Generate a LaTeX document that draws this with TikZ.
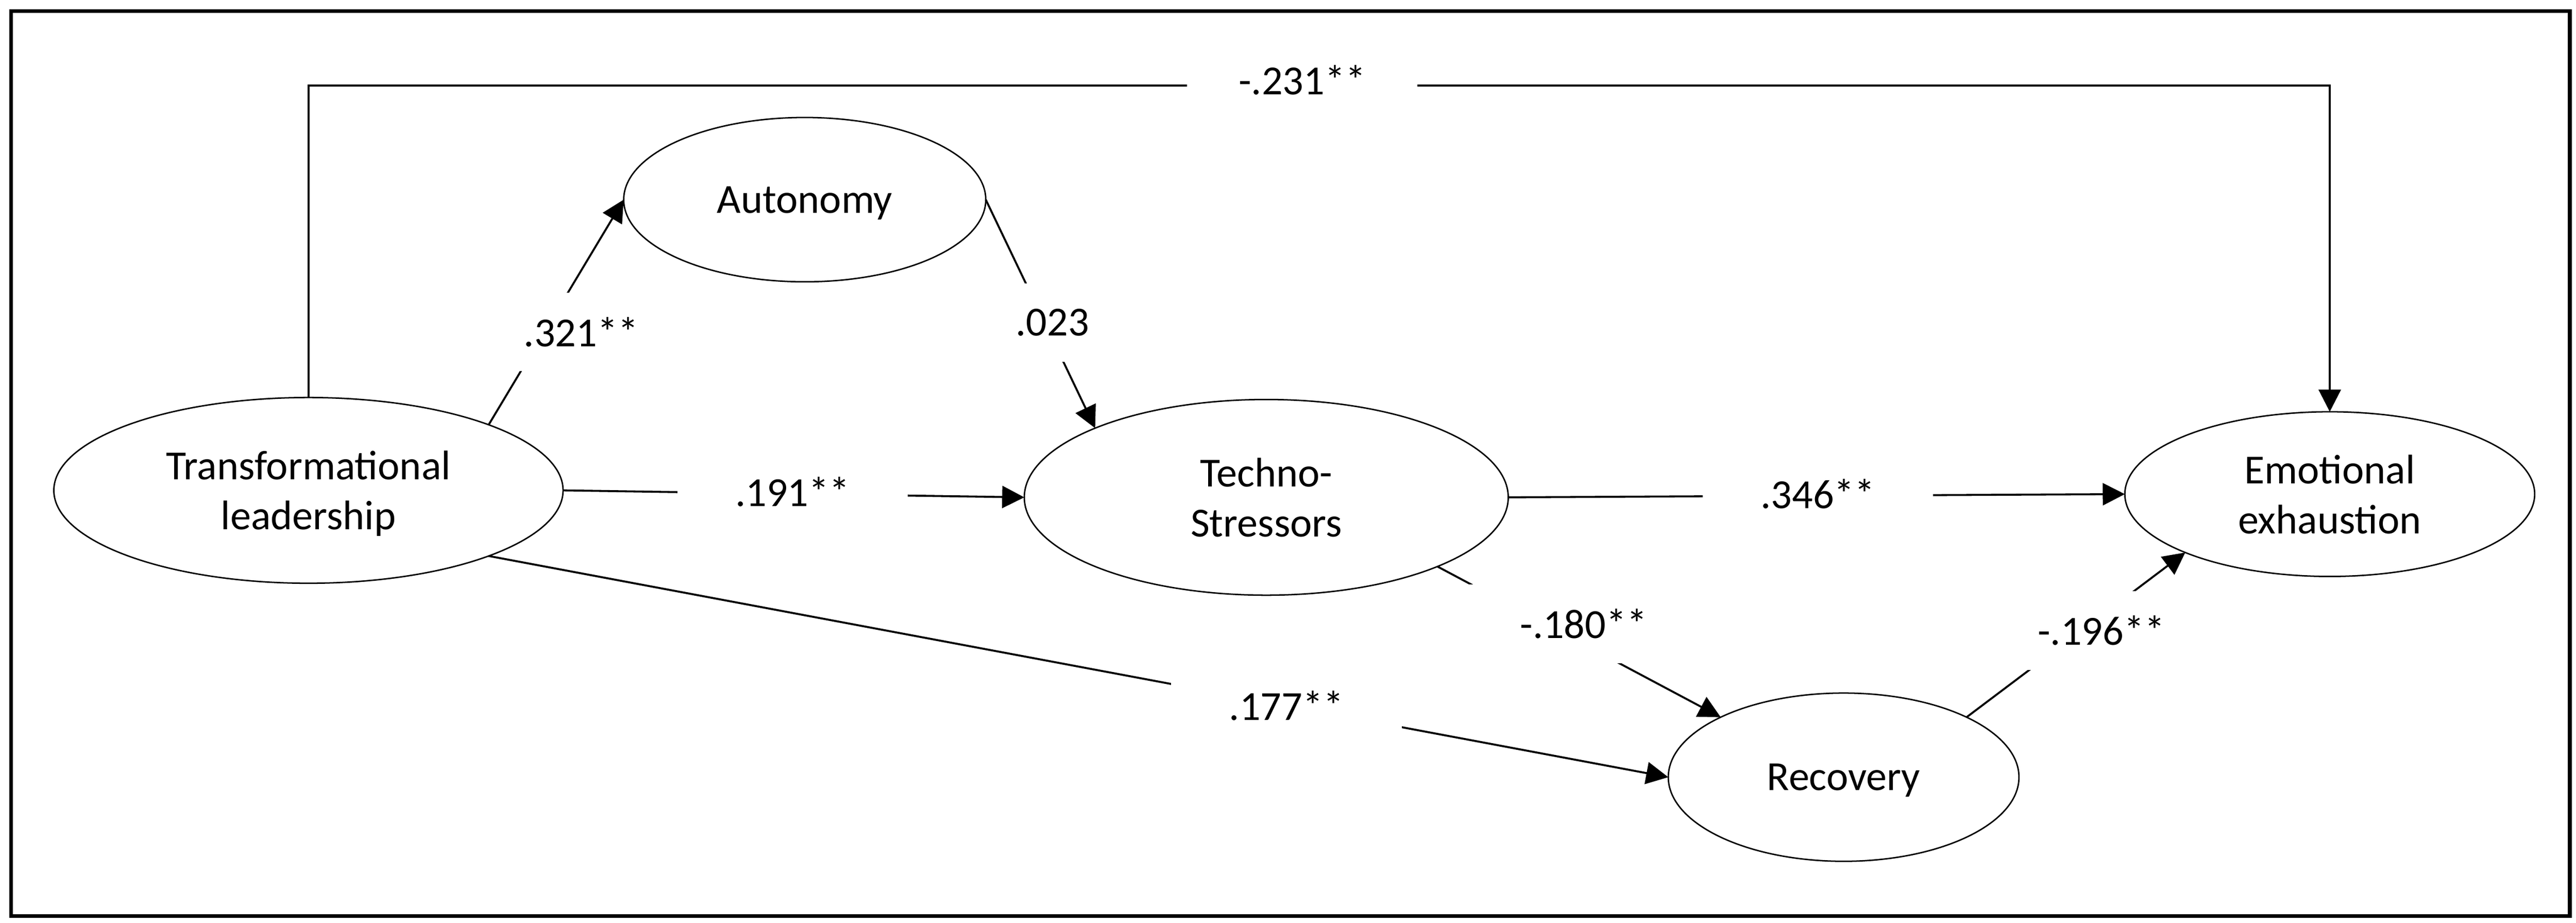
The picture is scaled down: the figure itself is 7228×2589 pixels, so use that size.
\documentclass[tikz,border=0pt]{standalone}
\usepackage{fontspec}
\setmainfont{Carlito}
\usetikzlibrary{arrows.meta,shapes.geometric}
\tikzset{
  var/.style={ellipse,draw,line width=0.4pt,inner sep=0pt,outer sep=0pt,align=center,
    text depth=0pt,font=\fontsize{11.6}{14}\selectfont},
  path/.style={line width=0.55pt,-{Triangle[length=6.2pt,width=6.2pt]}},
  coef/.style={fill=white,inner sep=0pt,minimum width=64.7pt,minimum height=22.1pt,
    font=\fontsize{11.6}{14}\selectfont}
}
\begin{document}
\begin{tikzpicture}[x=0.1pt,y=-0.1pt]
\useasboundingbox (0,0) rectangle (7228,2589);
\draw[line width=1.05pt] (31,31) rectangle (7210.5,2569.5);
% variables
\node[var,minimum width=142.9pt,minimum height=52.1pt] (tl) at (865.5,1375.5) {Transformational\\leadership};
\node[var,minimum width=101.6pt,minimum height=46.1pt] (aut) at (2258,560) {Autonomy};
\node[var,minimum width=135.8pt,minimum height=54.9pt] (ts) at (3553,1395) {Techno-\\Stressors};
\node[var,minimum width=115pt,minimum height=46.2pt] (ee) at (6537,1386) {Emotional\\exhaustion};
\node[var,minimum width=98.4pt,minimum height=47.2pt] (rec) at (5173,2180) {Recovery};
\coordinate (top) at (865.5,240);
% paths
\draw[path] (tl.north) |- (top -| ee.north) -- (ee.north);
\draw[path] (tl.20) -- (aut.west);
\draw[path] (aut.east) -- (ts.158);
\draw[path] (tl.east) -- (ts.west);
\draw[path] (ts.east) -- (ee.west);
\draw[path] (tl.-20) -- (rec.west);
\draw[path] (ts.-22) -- (rec.154);
\draw[path] (rec.26) -- (ee.202);
% coefficients
\node[coef] (c231) at (3654,225) {-.231**};
\node[coef] (c321) at (1630.5,931) {.321**};
\node[coef] (c023) at (2953,905) {.023};
\node[coef] (c191) at (2224,1380) {.191**};
\node[coef] (c346) at (5101,1385) {.346**};
\node[coef] (c180) at (4443.5,1749.5) {-.180**};
\node[coef] (c177) at (3609.5,1980) {.177**};
\node[coef] (c196) at (5896,1769) {-.196**};
\end{tikzpicture}
\end{document}
